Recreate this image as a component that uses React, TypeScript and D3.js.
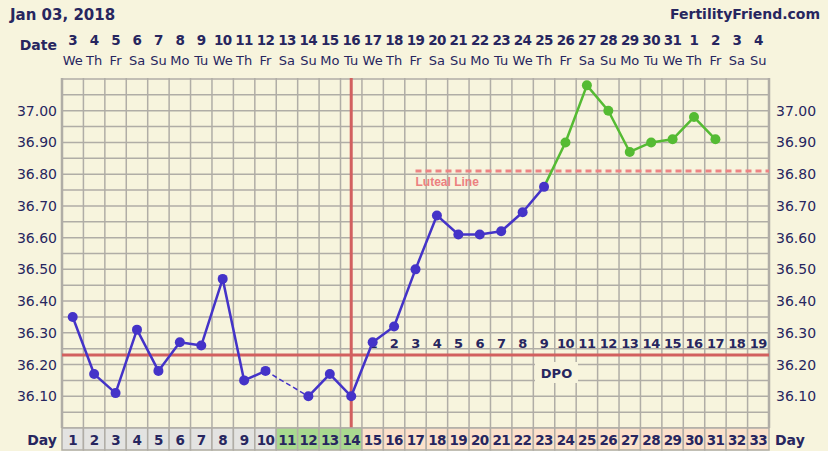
import React from "react";
import * as d3 from "d3";

const cycleDays = d3.range(1, 34);
const dates = [3,4,5,6,7,8,9,10,11,12,13,14,15,16,17,18,19,20,21,22,23,24,25,26,27,28,29,30,31,1,2,3,4];
const weekdays = ["We","Th","Fr","Sa","Su","Mo","Tu","We","Th","Fr","Sa","Su","Mo","Tu","We","Th","Fr","Sa","Su","Mo","Tu","We","Th","Fr","Sa","Su","Mo","Tu","We","Th","Fr","Sa","Su"];
const temps: (number | null)[] = [36.35,36.17,36.11,36.31,36.18,36.27,36.26,36.47,36.15,36.18,null,36.10,36.17,36.10,36.27,36.32,36.50,36.67,36.61,36.61,36.62,36.68,36.76,36.90,37.08,37.00,36.87,36.90,36.91,36.98,36.91,null,null];
const yTicks = [36.1,36.2,36.3,36.4,36.5,36.6,36.7,36.8,36.9,37.0];
const coverline = 36.23;
const lutealLine = 36.81;
const lutealStartDay = 17;
const ovulationDay = 14;
const firstHighDay = 23;
const dpoStart = 15;

const W = 828, H = 451;
const L = 62, R = 769, TOP = 79, BOT = 428, ROWB = 450;
const NAVY = "#27265f";
const BG = "#f7f4dd";
const GRID = "#b0ada6";
const FONT = "'DejaVu Sans', Verdana, sans-serif";

export default function App() {
  const x = d3.scaleBand<number>().domain(cycleDays).range([L, R]);
  const bw = x.bandwidth();
  const cx = (d: number) => (x(d) as number) + bw / 2;
  const y = d3.scaleLinear().domain([36.0, 37.1]).range([BOT, TOP]);

  const hLines = d3.range(0, 23).map((i) => 36.0 + i * 0.05);
  const vLines = d3.range(0, 34).map((i) => L + i * bw);

  const pts = cycleDays.map((d, i) => ({ d, v: temps[i] }));
  const blue = pts.filter((p) => p.d <= firstHighDay);
  const green = pts.filter((p) => p.d >= firstHighDay && p.v != null);

  const line = d3
    .line<{ d: number; v: number | null }>()
    .defined((p) => p.v != null)
    .x((p) => cx(p.d))
    .y((p) => y(p.v as number));

  const bridges: [typeof pts[0], typeof pts[0]][] = [];
  const known = blue.filter((p) => p.v != null);
  for (let i = 1; i < known.length; i++) {
    if (known[i].d - known[i - 1].d > 1) bridges.push([known[i - 1], known[i]]);
  }

  const cellColor = (d: number) => (d <= 10 ? "#e3e3e1" : d <= ovulationDay ? "#a9d98f" : "#fbe1cb");

  return (
    <svg width={W} height={H} style={{ position: "absolute", left: 0, top: 0, background: BG }} fontFamily={FONT}>
      <rect x={0} y={0} width={W} height={H} fill={BG} />
      <text x={10} y={20} fontSize={15} fontWeight="bold" fill={NAVY}>Jan 03, 2018</text>
      <text x={820} y={19} fontSize={14} fontWeight="bold" fill={NAVY} textAnchor="end">FertilityFriend.com</text>
      <text x={57} y={50} fontSize={14} fontWeight="bold" fill={NAVY} textAnchor="end">Date</text>
      {cycleDays.map((d, i) => (
        <g key={"dt" + d}>
          <text x={cx(d)} y={45} fontSize={13.5} fontWeight="bold" fill={NAVY} textAnchor="middle" letterSpacing={-0.6}>{dates[i]}</text>
          <text x={cx(d)} y={65} fontSize={13} fill={NAVY} textAnchor="middle">{weekdays[i]}</text>
        </g>
      ))}

      {hLines.map((v, i) => (
        <line key={"h" + i} x1={L} x2={R} y1={y(v)} y2={y(v)} stroke={GRID} strokeWidth={1.5} />
      ))}
      {vLines.map((vx, i) => (
        <line key={"v" + i} x1={vx} x2={vx} y1={TOP - 1} y2={BOT} stroke={GRID} strokeWidth={i === 0 || i === 33 ? 2.5 : 1.5} />
      ))}

      {yTicks.map((t) => (
        <g key={"yt" + t}>
          <text x={57} y={y(t) + 5} fontSize={14} fill={NAVY} textAnchor="end">{t.toFixed(2)}</text>
          <text x={776} y={y(t) + 5} fontSize={14} fill={NAVY}>{t.toFixed(2)}</text>
        </g>
      ))}

      {cycleDays.filter((d) => d >= dpoStart).map((d) => (
        <text key={"dpo" + d} x={cx(d)} y={348} fontSize={13} fontWeight="bold" fill={NAVY} textAnchor="middle" letterSpacing={-0.5}>{d - dpoStart + 1}</text>
      ))}
      <rect x={535} y={362} width={43} height={21} fill={BG} />
      <text x={556.5} y={378} fontSize={13} fontWeight="bold" fill={NAVY} textAnchor="middle">DPO</text>

      <line x1={L} x2={R} y1={y(coverline)} y2={y(coverline)} stroke="#d2605f" strokeWidth={3} />
      <line x1={cx(ovulationDay)} x2={cx(ovulationDay)} y1={TOP - 1} y2={BOT} stroke="#d2605f" strokeWidth={3} />

      <line x1={cx(lutealStartDay)} x2={R} y1={y(lutealLine)} y2={y(lutealLine)} stroke="#ee8383" strokeWidth={3} strokeDasharray="6,4" />
      <text x={cx(lutealStartDay)} y={186} fontSize={12} fontWeight="bold" fill="#ec8080" fontFamily="'Liberation Sans', Arial, sans-serif">Luteal Line</text>

      {bridges.map(([a, b], i) => (
        <line key={"br" + i} x1={cx(a.d)} y1={y(a.v as number)} x2={cx(b.d)} y2={y(b.v as number)} stroke="#4433c8" strokeWidth={1.5} strokeDasharray="5,3" />
      ))}
      <path d={line(blue) || ""} fill="none" stroke="#4433c8" strokeWidth={2.5} strokeLinejoin="round" />
      <path d={line(green) || ""} fill="none" stroke="#55bb33" strokeWidth={2.5} strokeLinejoin="round" />
      {blue.filter((p) => p.v != null).map((p) => (
        <circle key={"bp" + p.d} cx={cx(p.d)} cy={y(p.v as number)} r={5} fill="#4433c8" />
      ))}
      {green.filter((p) => p.d > firstHighDay).map((p) => (
        <circle key={"gp" + p.d} cx={cx(p.d)} cy={y(p.v as number)} r={5} fill="#55bb33" />
      ))}

      {cycleDays.map((d) => (
        <g key={"cd" + d}>
          <rect x={x(d) as number} y={BOT} width={bw} height={ROWB - BOT} fill={cellColor(d)} stroke={GRID} strokeWidth={1.5} />
          <text x={cx(d)} y={445} fontSize={13.5} fontWeight="bold" fill={NAVY} textAnchor="middle" letterSpacing={-0.6}>{d}</text>
        </g>
      ))}
      <text x={57} y={445} fontSize={14} fontWeight="bold" fill={NAVY} textAnchor="end">Day</text>
      <text x={775} y={445} fontSize={14} fontWeight="bold" fill={NAVY}>Day</text>
    </svg>
  );
}
